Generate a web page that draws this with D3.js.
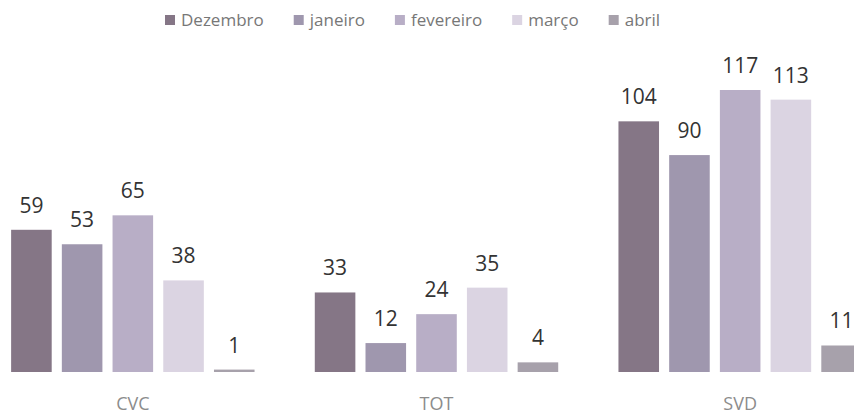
<!DOCTYPE html>
<html>
<head>
<meta charset="utf-8">
<script src="https://cdn.jsdelivr.net/npm/d3@7"></script>
<style>
  html, body { margin: 0; padding: 0; background: #ffffff; }
  svg { display: block; }
</style>
</head>
<body>
<svg id="chart" width="854" height="415"></svg>
<script>
const categories = ["CVC", "TOT", "SVD"];
const seriesNames = ["Dezembro", "janeiro", "fevereiro", "março", "abril"];
const dezembro  = [59, 33, 104];
const janeiro   = [53, 12, 90];
const fevereiro = [65, 24, 117];
const marco     = [38, 35, 113];
const abril     = [1, 4, 11];
const seriesColors = ["#857686", "#9f97ae", "#b8aec6", "#dbd4e2", "#a7a1ab"];

const seriesValues = [dezembro, janeiro, fevereiro, marco, abril];
const data = categories.map((c, i) => ({
  cat: c,
  vals: seriesNames.map((s, j) => ({ series: s, idx: j, value: seriesValues[j][i] }))
}));

const svg = d3.select("#chart");
const baseline = 372;
const topY = 90;

const x0 = d3.scaleBand().domain(categories).range([-19, 892])
  .paddingInner(0.165).paddingOuter(0.0825);
const x1 = d3.scaleBand().domain(seriesNames).range([0, x0.bandwidth()])
  .paddingInner(0.2).paddingOuter(0.1);
const y = d3.scaleLinear().domain([0, 117]).range([baseline, topY]);
const color = d3.scaleOrdinal().domain(seriesNames).range(seriesColors);

const groups = svg.append("g").selectAll("g").data(data).join("g")
  .attr("transform", d => `translate(${x0(d.cat)},0)`);

groups.selectAll("rect").data(d => d.vals).join("rect")
  .attr("x", d => x1(d.series))
  .attr("width", x1.bandwidth())
  .attr("y", d => y(d.value))
  .attr("height", d => Math.max(1.5, y(0) - y(d.value)))
  .attr("fill", d => color(d.series));

groups.selectAll("text.val").data(d => d.vals).join("text")
  .attr("class", "val")
  .attr("x", d => x1(d.series) + x1.bandwidth() / 2)
  .attr("y", d => y(d.value) - 17)
  .attr("text-anchor", "middle")
  .attr("font-family", "Open Sans, sans-serif")
  .attr("font-size", 21)
  .attr("fill", "#333")
  .text(d => d.value);

// category axis labels
const xAxis = d3.axisBottom(x0).tickSize(0).tickPadding(0);
const axisG = svg.append("g").attr("transform", `translate(0,${baseline + 25})`).call(xAxis);
axisG.select(".domain").remove();
axisG.selectAll("text")
  .attr("font-family", "Open Sans, sans-serif")
  .attr("font-size", 18)
  .attr("fill", "#8c8c8c");

// legend
const legend = svg.append("g").attr("transform", "translate(165,20)");
let lx = 0;
seriesNames.forEach((s, i) => {
  const g = legend.append("g").attr("transform", `translate(${lx},0)`);
  g.append("rect").attr("x", 0).attr("y", -5).attr("width", 10).attr("height", 10)
    .attr("fill", color(s));
  const t = g.append("text").attr("x", 16).attr("y", 0).attr("dy", "0.35em")
    .attr("font-family", "Open Sans, sans-serif")
    .attr("font-size", 17).attr("fill", "#777").text(s);
  lx += 16 + t.node().getComputedTextLength() + 30;
});
</script>
</body>
</html>
